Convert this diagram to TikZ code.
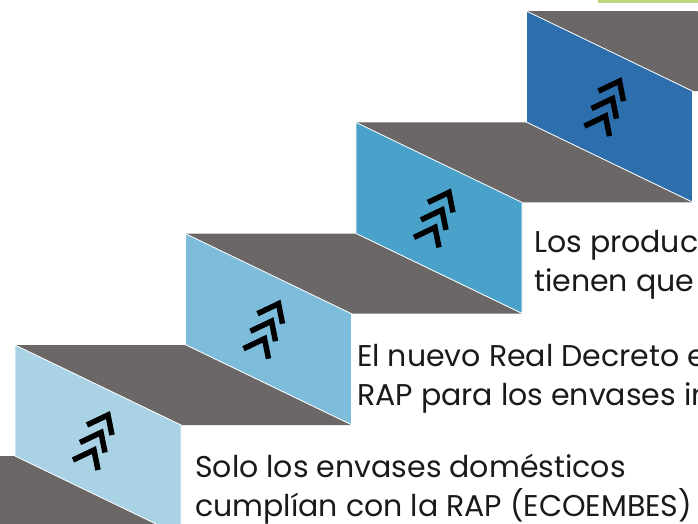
\documentclass[tikz,border=0pt]{standalone}
\usepackage{fontspec}
\setmainfont{Poppins}
\definecolor{stepgray}{HTML}{6B6767}
\definecolor{riserA}{HTML}{A9D3E5}
\definecolor{riserB}{HTML}{7DBCDB}
\definecolor{riserC}{HTML}{4AA2CA}
\definecolor{riserD}{HTML}{2D6EAC}
\definecolor{leafgreen}{HTML}{B8D77A}
\definecolor{inkgray}{HTML}{1A1A1A}

\begin{document}
\begin{tikzpicture}[x=1pt, y=-1pt,
    tread/.style={fill=stepgray},
    riser/.style={draw=white, line width=0.8pt},
    chev/.style={line width=5.5pt, line join=miter, black},
    steptext/.style={anchor=base west, inner sep=0pt, text=inkgray,
      font=\fontsize{30}{36}\selectfont},
    pics/upicon/.style={code={
        \draw[chev] (-21,10) -- (0,0) -- (4,20);
        \draw[chev] (-28,27.5) -- (-7,17.5) -- (-3,37.5);
        \draw[chev] (-35,45) -- (-14,35) -- (-10,55);
    }}]
  \useasboundingbox (0,0) rectangle (698,524);

  % green bar at the top edge
  \fill[leafgreen] (598,0) rectangle (698,3);

  % treads
  \fill[tread] (-155.5,456) -- ++(170.5,0) -- ++(166,80) -- ++(-170.5,0) -- cycle;
  \fill[tread] (15,345) -- ++(170.5,0) -- ++(166,80) -- ++(-170.5,0) -- cycle;
  \fill[tread] (185.5,233.7) -- ++(170.5,0) -- ++(166,80) -- ++(-170.5,0) -- cycle;
  \fill[tread] (356,122.4) -- ++(170.5,0) -- ++(166,80) -- ++(-170.5,0) -- cycle;
  \fill[tread] (526.5,11.1) -- ++(170.5,0) -- ++(166,80) -- ++(-170.5,0) -- cycle;

  % risers
  \filldraw[riser, fill=riserA] (15,345) -- ++(166,80) -- ++(0,111) -- ++(-166,-80) -- cycle;
  \filldraw[riser, fill=riserB] (185.5,233.7) -- ++(166,80) -- ++(0,111) -- ++(-166,-80) -- cycle;
  \filldraw[riser, fill=riserC] (356,122.4) -- ++(166,80) -- ++(0,111) -- ++(-166,-80) -- cycle;
  \filldraw[riser, fill=riserD] (526.5,11.1) -- ++(166,80) -- ++(0,111) -- ++(-166,-80) -- cycle;

  % arrows on the risers
  \pic at (108,415) {upicon};
  \pic at (278.5,303.7) {upicon};
  \pic at (449,192.4) {upicon};
  \pic at (619.5,81.1) {upicon};

  % texts
  \node[steptext] (soloA) at (195,477) {Solo los envases domésticos};
  \node[steptext] (soloB) at (195,516) {cumplían con la RAP (ECOEMBES)};
  \node[steptext] (nuevoA) at (357,366) {El nuevo Real Decreto e};
  \node[steptext] (nuevoB) at (357,405) {RAP para los envases in};
  \node[steptext] (prodA) at (534,252) {Los product};
  \node[steptext] (prodB) at (534,291) {tienen que};
\end{tikzpicture}
\end{document}
